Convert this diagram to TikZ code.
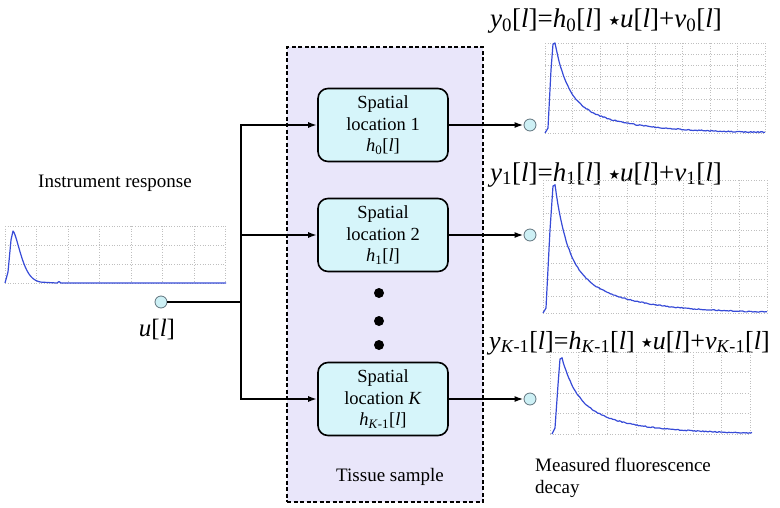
\documentclass[tikz,border=0pt]{standalone}
\usepackage{fontspec}
\setmainfont{Liberation Serif}
\newfontfamily\starfont{DejaVu Sans}
\usetikzlibrary{arrows.meta, positioning}

\definecolor{curveblue}{RGB}{55,75,215}
\definecolor{boxcyan}{RGB}{214,245,250}
\definecolor{tissuefill}{RGB}{233,230,250}
\definecolor{portfill}{RGB}{205,240,245}
\definecolor{portedge}{RGB}{95,115,125}

\begin{document}
\begin{tikzpicture}[x=1pt, y=-1pt,
    locbox/.style={draw, line width=1.6pt, rounded corners=10pt, fill=boxcyan, minimum width=130pt, minimum height=73pt, align=center, inner sep=0pt, font=\fontsize{18.5}{21.5}\selectfont},
    tissuebox/.style={draw, line width=1.5pt, dash pattern=on 4pt off 2.5pt, fill=tissuefill, minimum width=196pt, minimum height=455pt, inner sep=0pt},
    port/.style={circle, draw=portedge, fill=portfill, line width=0.8pt, minimum size=12pt, inner sep=0pt},
    dotmark/.style={circle, fill=black, minimum size=10pt, inner sep=0pt},
    wire/.style={line width=1.8pt},
    feed/.style={wire, -{Latex[length=9pt, width=6pt]}},
    txt/.style={font=\fontsize{19}{22}\selectfont, inner sep=0pt},
    eqn/.style={anchor=base west, inner sep=0pt, font=\fontsize{27}{30}\selectfont},
    gridline/.style={gray!50, dotted, line width=0.6pt},
    curve/.style={curveblue, line width=1.2pt, line join=round}
]
\useasboundingbox (0,0) rectangle (780,507);
\pgfmathsetseed{7}

% Tissue sample
\node[tissuebox] (tissue) at (385,274.5) {};
\node[txt] (tissuelbl) at (390,477) {Tissue sample};

% Spatial locations
\node[locbox] (loc1) at (383,125) {Spatial\\location 1\\\textit{h}\textsubscript{0}[\textit{l}]};
\node[locbox] (loc2) at (383,235) {Spatial\\location 2\\\textit{h}\textsubscript{1}[\textit{l}]};
\node[locbox] (locK) at (383,399) {Spatial\\location \textit{K}\\\textit{h}\textsubscript{\textit{K}-1}[\textit{l}]};
\node[dotmark] (dot1) at (379,293) {};
\node[dotmark] (dot2) at (379,321) {};
\node[dotmark] (dot3) at (379,345) {};

% Input
\node[txt] (irflbl) at (115,183) {Instrument response};
\node[port] (uport) at (161,302) {};
\node[font=\fontsize{25}{28}\selectfont, inner sep=0pt] (ulbl) at (157,329) {\textit{u}[\textit{l}]};
\coordinate (bus) at (241,302);
\draw[wire] (uport) -- (bus);
\draw[feed] (bus) |- (loc1);
\draw[feed] (bus) |- (loc2);
\draw[feed] (bus) |- (locK);

% Outputs
\node[port] (y0port) at (530,125) {};
\node[port] (y1port) at (530,235) {};
\node[port] (yKport) at (530,399) {};
\draw[feed] (loc1) -- (y0port);
\draw[feed] (loc2) -- (y1port);
\draw[feed] (locK) -- (yKport);

% Equations
\node[eqn] (eq0) at (490,27) {\textit{y}\textsubscript{0}[\textit{l}]=\textit{h}\textsubscript{0}[\textit{l}] \raisebox{2pt}{\starfont\fontsize{13}{13}\selectfont ★}\textit{u}[\textit{l}]+\textit{v}\textsubscript{0}[\textit{l}]};
\node[eqn] (eq1) at (490,181) {\textit{y}\textsubscript{1}[\textit{l}]=\textit{h}\textsubscript{1}[\textit{l}] \raisebox{2pt}{\starfont\fontsize{13}{13}\selectfont ★}\textit{u}[\textit{l}]+\textit{v}\textsubscript{1}[\textit{l}]};
\node[eqn, font=\fontsize{26}{30}\selectfont] (eqK) at (489,349) {\textit{y}\textsubscript{\textit{K}-1}[\textit{l}]=\textit{h}\textsubscript{\textit{K}-1}[\textit{l}] \raisebox{2pt}{\starfont\fontsize{13}{13}\selectfont ★}\textit{u}[\textit{l}]+\textit{v}\textsubscript{\textit{K}-1}[\textit{l}]};
\node[txt, align=left, anchor=west] (measlbl) at (535,477.5) {Measured fluorescence\\decay};

% Instrument response plot
\foreach \i in {0,...,7} {
    \draw[gridline] (5+\i*31.5,226) -- (5+\i*31.5,283);
}
\foreach \j in {0,...,3} {
    \draw[gridline] (5,226+\j*19) -- (225.5,226+\j*19);
}
\draw[curve] (5,283) -- (8,272) -- (11,240) -- (13,231)
    -- plot[domain=0:28, samples=30] ({13+\x},{283-52*exp(-(\x/11)*sqrt(\x/11))})
    -- (57,283) -- (59,281.5) -- (61,283) -- (226,283);

% Decay plots
\foreach \i in {0,...,8} {
    \draw[gridline] (545+\i*27.5,43) -- (545+\i*27.5,133);
    \draw[gridline] (545,43+\i*11.25) -- (765,43+\i*11.25);
    \draw[gridline] (543+\i*28,180) -- (543+\i*28,313);
    \draw[gridline] (543,180+\i*16.6) -- (767,180+\i*16.6);
}
\foreach \i in {0,...,7} {
    \draw[gridline] (550+\i*28.6,352) -- (550+\i*28.6,434);
}
\foreach \j in {0,...,4} {
    \draw[gridline] (550,352+\j*20.5) -- (750,352+\j*20.5);
}
\draw[curve] (545,133) -- (548,128) -- (551,70) -- (553,44) -- (555,43)
    -- plot[domain=0:210, samples=150] ({555+\x},{133-90*(0.6*exp(-\x/12)+0.4*exp(-\x/55))+0.5*rand});
\draw[curve] (543,313) -- (546,308) -- (550,230) -- (553,186) -- (555,185)
    -- plot[domain=0:212, samples=150] ({555+\x},{313-128*(0.6*exp(-\x/12)+0.4*exp(-\x/55))+0.5*rand});
\draw[curve] (552,434) -- (555,428) -- (558,385) -- (560,359) -- (562,358)
    -- plot[domain=0:190, samples=140] ({562+\x},{434-76*(0.55*exp(-\x/14)+0.45*exp(-\x/55))+0.5*rand});

\end{tikzpicture}
\end{document}
